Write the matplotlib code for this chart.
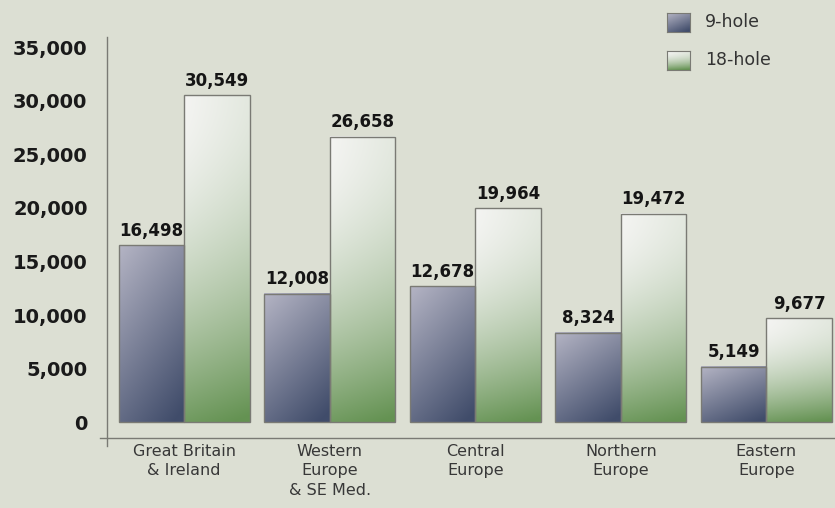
import matplotlib
matplotlib.use("Agg")
import matplotlib.pyplot as plt
import numpy as np
from matplotlib.lines import Line2D

# golf course counts by region
regions = ["Great Britain\n& Ireland", "Western\nEurope\n& SE Med.", "Central\nEurope",
           "Northern\nEurope", "Eastern\nEurope"]
holes_9 = [16498, 12008, 12678, 8324, 5149]
holes_18 = [30549, 26658, 19964, 19472, 9677]
yticks = [0, 5000, 10000, 15000, 20000, 25000, 30000, 35000]
series_names = ["9-hole", "18-hole"]

BG = "#dcdfd3"
EDGE = "#7a7a74"
W, H = 835, 508


def grad_9(n=80, m=40):
    # light at top-left, dark slate blue at bottom-right
    yy, xx = np.mgrid[0:1:n * 1j, 0:1:m * 1j]
    s = np.clip(0.7 * yy + 0.35 * xx, 0, 1)[..., None]
    light = np.array([180, 180, 196]) / 255
    dark = np.array([64, 76, 106]) / 255
    return light * (1 - s) + dark * s


def grad_18(n=80, m=40):
    # near white at top, green at bottom
    yy, xx = np.mgrid[0:1:n * 1j, 0:1:m * 1j]
    s = np.clip(yy ** 1.8 * 0.9 + 0.12 * xx, 0, 1)[..., None]
    light = np.array([244, 244, 242]) / 255
    dark = np.array([100, 146, 82]) / 255
    return light * (1 - s) + dark * s


fig = plt.figure(figsize=(W / 100, H / 100), dpi=100, facecolor=BG)
ax = fig.add_axes([107 / W, 1 - 438 / H, 1 - 107 / W, (438 - 37) / H])
ax.set_facecolor(BG)

w = 0.45
x = np.arange(len(regions))
for i in range(len(regions)):
    for left, val, g in [(x[i] - w, holes_9[i], grad_9()), (x[i], holes_18[i], grad_18())]:
        ax.imshow(g, extent=[left, left + w, 0, val], origin="upper", aspect="auto",
                  interpolation="bilinear", zorder=2)
        ax.bar(left, val, width=w, align="edge", facecolor="none", edgecolor=EDGE,
               linewidth=1, zorder=3)
        ax.annotate(f"{val:,}", (left + w / 2, val), xytext=(0, 4), textcoords="offset points",
                    ha="center", va="bottom", fontsize=12, fontweight="bold", color="#151515")

ax.set_xlim(-0.529, 4.471)
ax.set_ylim(-1495, 35981)
ax.set_yticks(yticks)
ax.set_yticklabels([f"{t:,}" for t in yticks], fontsize=14, fontweight="bold", color="#1a1a1a")
ax.set_xticks(x)
ax.set_xticklabels(regions, fontsize=11.5, color="#383838", linespacing=1.4)
ax.tick_params(axis="y", length=0, pad=14)
ax.tick_params(axis="x", length=0, pad=4)
for sp in ax.spines.values():
    sp.set_visible(False)

# axis lines (cross at lower left)
fig.add_artist(Line2D([107 / W, 107 / W], [1 - 37 / H, 1 - 446 / H], color=EDGE, lw=1,
                      transform=fig.transFigure))
fig.add_artist(Line2D([100 / W, 1.0], [1 - 438 / H, 1 - 438 / H], color=EDGE, lw=1,
                      transform=fig.transFigure))

# legend
for name, g, ytop in zip(series_names, [grad_9(20, 20), grad_18(20, 20)], [13, 51]):
    lax = fig.add_axes([667 / W, 1 - (ytop + 19) / H, 23 / W, 19 / H])
    lax.imshow(g, aspect="auto", interpolation="bilinear")
    lax.set_xticks([])
    lax.set_yticks([])
    for sp in lax.spines.values():
        sp.set_color(EDGE)
    fig.text(705 / W, 1 - (ytop + 9) / H, name, va="center", ha="left", fontsize=12.5,
             color="#333333")

fig.savefig("out.png", dpi=100, facecolor=BG)
